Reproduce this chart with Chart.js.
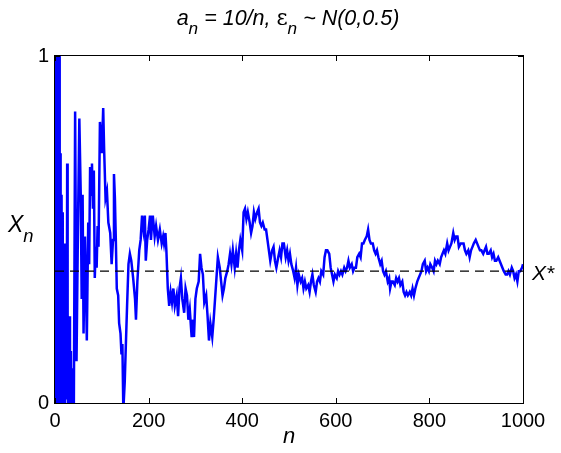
<!DOCTYPE html>
<html>
<head>
<meta charset="utf-8">
<script src="https://cdn.jsdelivr.net/npm/chart.js@4.4.0/dist/chart.umd.min.js"></script>
<style>
  html, body { margin: 0; padding: 0; background: #fff; }
  #wrap { position: relative; width: 561px; height: 453px; font-family: "Liberation Sans", Arial, sans-serif; }
  .lbl { position: absolute; font-style: italic; color: #000; white-space: nowrap; line-height: 1; }
  .lbl sub { font-size: 0.8em; vertical-align: -0.55em; line-height: 0; }
  .up { font-style: normal; font-family: "DejaVu Serif", serif; }
</style>
</head>
<body>
<div id="wrap">
  <canvas id="chart" width="561" height="453"></canvas>
  <div class="lbl" id="title" style="font-size:21.5px; left:0; width:576px; text-align:center; top:7px;">a<sub>n</sub> = 10/n, <span class="up">&epsilon;</span><sub>n</sub> ~ N(0,0.5)</div>
  <div class="lbl" style="font-size:23px; left:8px; top:213px;">X<sub>n</sub></div>
  <div class="lbl" style="font-size:22px; left:283px; top:425px;">n</div>
  <div class="lbl" style="font-size:21px; left:532px; top:262px;">X*</div>
</div>
<script>
// iteration index n and the iterate X_n
const steps = [1, 2, 3, 4, 5, 6, 7, 8, 9, 10, 11, 12, 13, 14, 15, 16, 17, 18, 19, 20,
  21, 22, 23, 24, 25, 26, 27, 28, 30, 32, 34, 36, 38, 40, 43, 46, 49, 52, 55, 57,
  59, 61, 64, 66, 68, 71, 73, 75, 77, 79, 81, 83, 85, 87, 89, 91, 93, 96, 100, 103,
  105, 108, 111, 114, 118, 121, 124, 126, 128, 130, 132, 135, 137, 140, 142, 144, 146, 149, 151, 154,
  157, 160, 163, 167, 171, 173, 176, 180, 183, 186, 189, 192, 194, 197, 200, 203, 205, 207, 209, 213,
  216, 220, 224, 228, 231, 233, 236, 238, 241, 244, 247, 250, 253, 256, 260, 263, 266, 269, 272, 276,
  279, 282, 285, 288, 292, 295, 297, 300, 303, 307, 310, 313, 316, 319, 323, 326, 329, 332, 336, 339,
  342, 345, 348, 352, 355, 358, 361, 364, 368, 371, 374, 377, 380, 384, 387, 390, 393, 396, 400, 403,
  406, 409, 412, 416, 419, 422, 425, 428, 432, 435, 438, 441, 444, 448, 451, 454, 457, 460, 464, 467,
  470, 473, 477, 480, 483, 486, 489, 493, 496, 499, 502, 505, 509, 512, 515, 518, 521, 525, 528, 531,
  534, 537, 541, 544, 547, 550, 553, 557, 560, 563, 566, 569, 573, 576, 579, 582, 586, 589, 592, 595,
  598, 602, 605, 608, 611, 614, 618, 621, 624, 627, 630, 634, 637, 640, 643, 646, 650, 653, 656, 659,
  662, 666, 669, 672, 675, 679, 682, 685, 688, 691, 695, 698, 701, 704, 707, 711, 714, 716, 719, 722,
  726, 729, 732, 735, 738, 742, 745, 748, 751, 754, 758, 761, 764, 767, 770, 774, 777, 780, 783, 786,
  790, 793, 796, 799, 802, 806, 809, 812, 815, 818, 822, 825, 828, 831, 834, 838, 841, 844, 847, 851,
  854, 857, 860, 863, 867, 870, 873, 876, 879, 883, 886, 889, 892, 895, 899, 902, 905, 908, 911, 915,
  918, 921, 924, 927, 931, 934, 937, 940, 943, 947, 950, 953, 956, 959, 963, 966, 969, 972, 976, 979,
  982, 985, 988, 991, 994, 998, 1000];

const xn = [0.68, -0.9, 1.9, -0.7, 1.5, -0.4, 1.3, 0.05, 1.2, -0.3, 0.72, -0.2, 0.3, 0.60, 0.02, 0.55, -0.1, 0.46, 0.1, 0.40,
  -0.05, 0.42, 0.01, 0.46, 0.05, 0.69, 0.2, -0.1, 0.25, -0.2, 0.15, -0.3, 0.1, -0.1, 0.84, 0.12, 0.5, 0.82, 0.60, 0.30,
  0.60, 0.20, 0.48, 0.35, 0.18, 0.52, 0.40, 0.68, 0.60, 0.69, 0.56, 0.67, 0.36, 0.45, 0.39, 0.51, 0.45, 0.81, 0.72, 0.85,
  0.73, 0.59, 0.61, 0.52, 0.49, 0.40, 0.47, 0.66, 0.59, 0.47, 0.33, 0.31, 0.23, 0.20, 0.14, 0.17, -0.02, 0.06, 0.15, 0.28,
  0.40, 0.43, 0.41, 0.36, 0.30, 0.24, 0.35, 0.44, 0.47, 0.54, 0.50, 0.54, 0.41, 0.47, 0.50, 0.54, 0.47, 0.51, 0.54, 0.48,
  0.51, 0.47, 0.50, 0.46, 0.48, 0.46, 0.49, 0.44, 0.33, 0.28, 0.32, 0.29, 0.33, 0.28, 0.31, 0.25, 0.33, 0.36, 0.30, 0.26,
  0.33, 0.31, 0.24, 0.27, 0.19, 0.24, 0.19, 0.30, 0.33, 0.35, 0.43, 0.39, 0.37, 0.29, 0.31, 0.25, 0.18, 0.23, 0.19, 0.24,
  0.30, 0.36, 0.42, 0.39, 0.35, 0.31, 0.33, 0.36, 0.38, 0.40, 0.43, 0.40, 0.44, 0.39, 0.43, 0.39, 0.44, 0.47, 0.44, 0.55,
  0.56, 0.53, 0.55, 0.52, 0.49, 0.51, 0.55, 0.53, 0.55, 0.56, 0.52, 0.51, 0.52, 0.50, 0.50, 0.47, 0.44, 0.41, 0.44, 0.45,
  0.41, 0.39, 0.42, 0.44, 0.42, 0.46, 0.46, 0.42, 0.44, 0.41, 0.43, 0.40, 0.38, 0.36, 0.39, 0.34, 0.37, 0.35, 0.36, 0.33,
  0.35, 0.33, 0.34, 0.32, 0.35, 0.37, 0.34, 0.32, 0.35, 0.36, 0.35, 0.38, 0.37, 0.42, 0.44, 0.44, 0.43, 0.39, 0.37, 0.35,
  0.37, 0.36, 0.38, 0.37, 0.38, 0.37, 0.39, 0.38, 0.39, 0.41, 0.39, 0.40, 0.38, 0.39, 0.39, 0.42, 0.43, 0.42, 0.46, 0.46,
  0.47, 0.48, 0.50, 0.47, 0.46, 0.46, 0.44, 0.43, 0.44, 0.42, 0.40, 0.41, 0.38, 0.37, 0.38, 0.35, 0.36, 0.33, 0.35, 0.35,
  0.34, 0.36, 0.35, 0.36, 0.34, 0.35, 0.32, 0.31, 0.32, 0.31, 0.32, 0.31, 0.33, 0.31, 0.33, 0.35, 0.36, 0.37, 0.38, 0.40,
  0.41, 0.38, 0.39, 0.38, 0.40, 0.39, 0.38, 0.41, 0.40, 0.41, 0.40, 0.42, 0.43, 0.44, 0.43, 0.46, 0.44, 0.45, 0.46, 0.49,
  0.47, 0.48, 0.48, 0.45, 0.46, 0.46, 0.46, 0.44, 0.43, 0.44, 0.42, 0.44, 0.45, 0.46, 0.47, 0.46, 0.45, 0.44, 0.44, 0.43,
  0.44, 0.45, 0.43, 0.43, 0.44, 0.42, 0.43, 0.41, 0.41, 0.42, 0.41, 0.40, 0.39, 0.38, 0.37, 0.37, 0.38, 0.37, 0.39, 0.38,
  0.36, 0.37, 0.35, 0.38, 0.38, 0.39, 0.40];

const xStar = 0.38;
const xTicks = [0, 200, 400, 600, 800, 1000];
const yTicks = [0, 1];

const ctx = document.getElementById('chart').getContext('2d');

// MATLAB-style box: frame on all four sides, short tick marks pointing inward
const boxTicks = {
    id: 'boxTicks',
    afterDatasetsDraw(chart) {
        const a = chart.chartArea;
        const sx = chart.scales.x, sy = chart.scales.y;
        const c = chart.ctx;
        const len = 5;
        c.save();
        c.strokeStyle = '#000';
        c.lineWidth = 1;
        c.beginPath();
        xTicks.forEach(v => {
            const p = Math.round(sx.getPixelForValue(v)) + 0.5;
            c.moveTo(p, a.bottom); c.lineTo(p, a.bottom - len);
            c.moveTo(p, a.top); c.lineTo(p, a.top + len);
        });
        yTicks.forEach(v => {
            const p = Math.round(sy.getPixelForValue(v)) + 0.5;
            c.moveTo(a.left, p); c.lineTo(a.left + len, p);
            c.moveTo(a.right, p); c.lineTo(a.right - len, p);
        });
        c.stroke();
        c.strokeRect(Math.round(a.left) - 0.5, Math.round(a.top) - 0.5,
            Math.round(a.right - a.left) + 1, Math.round(a.bottom - a.top) + 1);
        c.restore();
    }
};

const chart = new Chart(ctx, {
    type: 'line',
    data: {
        datasets: [{
            label: 'X*',
            data: [{ x: 0, y: xStar }, { x: 1000, y: xStar }],
            borderColor: '#000',
            borderWidth: 1.3,
            borderDash: [9, 6],
            pointRadius: 0
        }, {
            label: 'X_n',
            data: steps.map((n, i) => ({ x: n, y: xn[i] })),
            borderColor: '#0000ff',
            borderWidth: 2.5,
            pointRadius: 0,
            tension: 0
        }]
    },
    options: {
        responsive: false,
        animation: false,
        devicePixelRatio: 1,
        layout: { padding: { top: 56, right: 38, left: 0, bottom: 0 } },
        plugins: {
            legend: { display: false },
            tooltip: { enabled: false }
        },
        scales: {
            x: {
                type: 'linear',
                min: 0,
                max: 1000,
                afterBuildTicks: (scale) => { scale.ticks = xTicks.map(v => ({ value: v })); },
                afterFit: (scale) => { scale.height = 50; },
                grid: { display: false, drawTicks: false },
                border: { display: false },
                ticks: {
                    color: '#000',
                    padding: 6,
                    maxRotation: 0,
                    callback: (v) => String(v),
                    font: { family: 'Liberation Sans', size: 20 }
                }
            },
            y: {
                type: 'linear',
                min: 0,
                max: 1,
                afterBuildTicks: (scale) => { scale.ticks = yTicks.map(v => ({ value: v })); },
                afterFit: (scale) => { scale.width = 55; },
                grid: { display: false, drawTicks: false },
                border: { display: false },
                ticks: {
                    color: '#000',
                    padding: 6,
                    callback: (v) => String(v),
                    font: { family: 'Liberation Sans', size: 20 }
                }
            }
        }
    },
    plugins: [boxTicks]
});
</script>
</body>
</html>
